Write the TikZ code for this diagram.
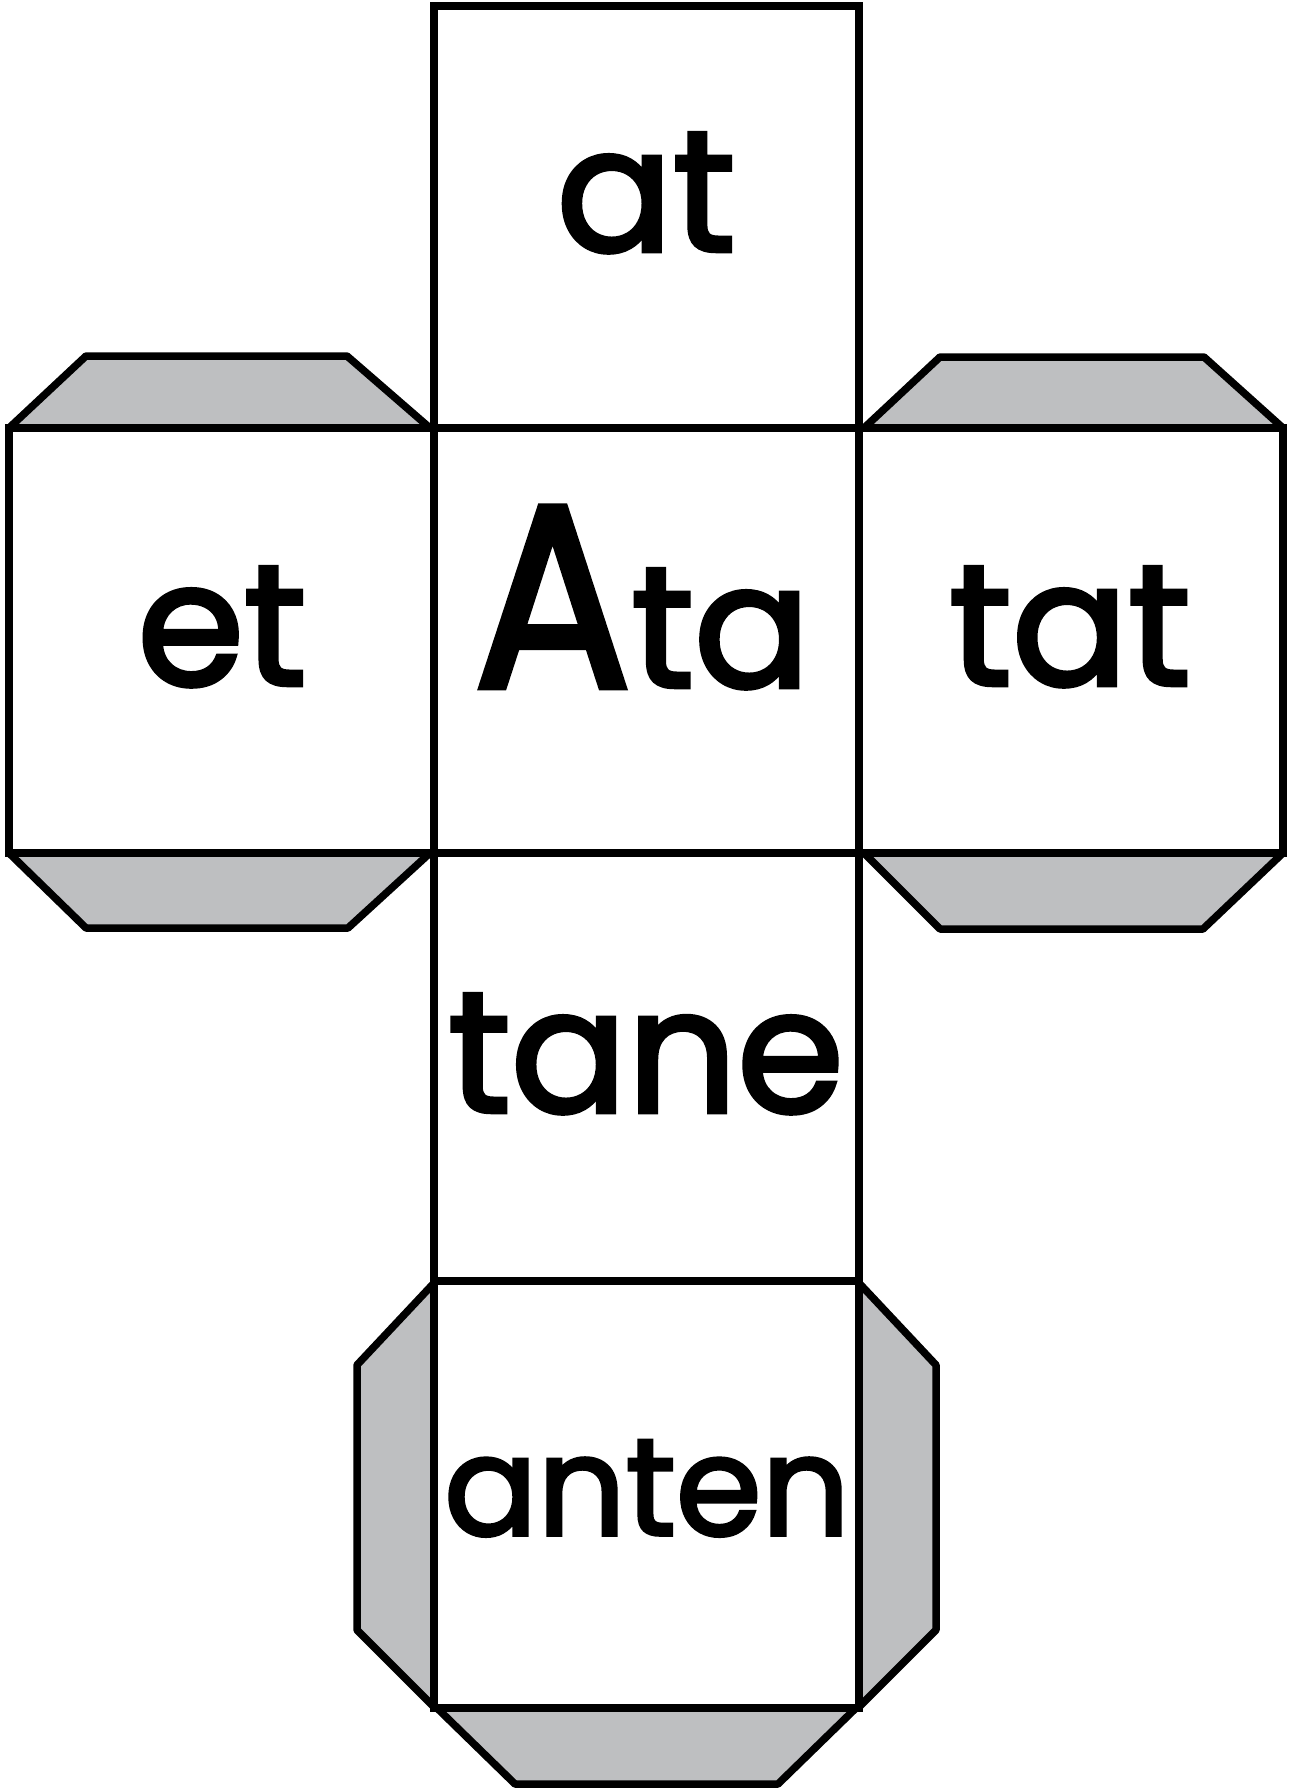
\documentclass[tikz,border=0pt]{standalone}
\usepackage{fontspec}
\setmainfont{Poppins}
\newfontfamily\wordfont{Poppins}[FakeBold=2.6]
\definecolor{tabgray}{RGB}{190,191,193}
\begin{document}
\begin{tikzpicture}[x=0.5pt,y=-0.5pt,
  tab/.style={draw=black, line width=3.75pt, fill=tabgray, line join=round},
  face/.style={draw=black, line width=3.75pt, fill=white, inner sep=0pt, outer sep=0pt, minimum width=212.5pt},
  word/.style={anchor=base, inner sep=0pt, font=\wordfont\fontsize{86}{86}\selectfont}]
\useasboundingbox (0,0) rectangle (1295,1789);
% tabs
\draw[tab] (9,428) -- (86,356) -- (347,356) -- (430,428) -- cycle;
\draw[tab] (9,853) -- (86,928) -- (348,928) -- (430,853) -- cycle;
\draw[tab] (864,428) -- (940,357) -- (1204,357) -- (1283,428) -- cycle;
\draw[tab] (864,853) -- (940,929) -- (1203,929) -- (1283,853) -- cycle;
\draw[tab] (434,1283) -- (357,1365) -- (357,1630) -- (434,1707) -- cycle;
\draw[tab] (859,1283) -- (936,1365) -- (936,1630) -- (859,1707) -- cycle;
\draw[tab] (437,1708) -- (515,1784) -- (778,1784) -- (856,1708) -- cycle;
% faces
\node[face, minimum height=211pt] (top) at (646.5,217) {};
\node[face, minimum height=212.5pt] (left) at (221.5,640.5) {};
\node[face, minimum height=212.5pt] (center) at (646.5,640.5) {};
\node[face, minimum height=212.5pt, minimum width=212pt] (right) at (1071,640.5) {};
\node[face, minimum height=214pt] (tanebox) at (646.5,1067) {};
\node[face, minimum height=213.5pt] (antenbox) at (646.5,1494.5) {};
% words
\node[word] (wat) at (646,251) {at};
\node[word] (wet) at (222,685) {et};
\node[word] (wAta) at (642,687) {\scalebox{0.9}[1]{\fontsize{130}{130}\selectfont A}ta};
\node[word] (wtat) at (1070,685) {tat};
\node[word] (wtane) at (646,1112) {tane};
\node[word, font=\wordfont\fontsize{69}{69}\selectfont] (wanten) at (647,1535) {anten};
\end{tikzpicture}
\end{document}
